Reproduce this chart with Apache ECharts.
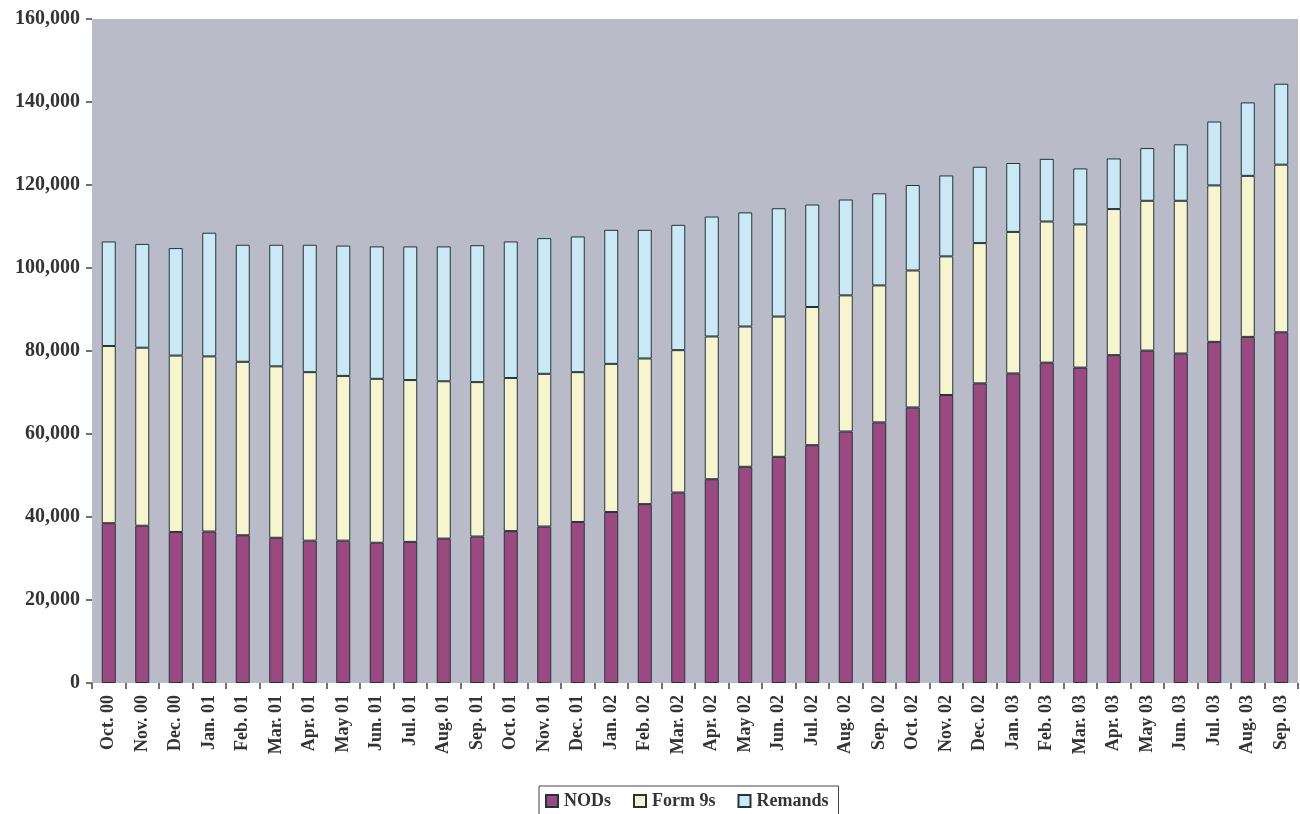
<!DOCTYPE html>
<html>
<head>
<meta charset="utf-8">
<script src="https://cdn.jsdelivr.net/npm/echarts@6/dist/echarts.min.js"></script>
<style>
  html, body { margin: 0; padding: 0; background: #ffffff; }
  #chart { width: 1300px; height: 814px; }
</style>
</head>
<body>
<div id="chart"></div>
<script>
// Monthly caseload, October 2000 – September 2003
const months = [
  'Oct. 00', 'Nov. 00', 'Dec. 00', 'Jan. 01', 'Feb. 01', 'Mar. 01', 'Apr. 01', 'May 01', 'Jun. 01',
  'Jul. 01', 'Aug. 01', 'Sep. 01', 'Oct. 01', 'Nov. 01', 'Dec. 01', 'Jan. 02', 'Feb. 02', 'Mar. 02',
  'Apr. 02', 'May 02', 'Jun. 02', 'Jul. 02', 'Aug. 02', 'Sep. 02', 'Oct. 02', 'Nov. 02', 'Dec. 02',
  'Jan. 03', 'Feb. 03', 'Mar. 03', 'Apr. 03', 'May 03', 'Jun. 03', 'Jul. 03', 'Aug. 03', 'Sep. 03'
];

const nods = [
  38500, 37900, 36400, 36500, 35600, 35000, 34300, 34300, 33800,
  34000, 34800, 35300, 36600, 37700, 38800, 41200, 43100, 45900,
  49100, 52100, 54500, 57300, 60600, 62800, 66400, 69400, 72200,
  74600, 77200, 76000, 79000, 80100, 79400, 82200, 83400, 84500
];

const form9s = [
  42700, 42900, 42500, 42200, 41800, 41300, 40600, 39700, 39500,
  39000, 37900, 37200, 36900, 36800, 36100, 35700, 35100, 34300,
  34400, 33800, 33800, 33300, 32800, 33000, 33000, 33400, 33800,
  34100, 34000, 34500, 35200, 36100, 36800, 37700, 38800, 40400
];

const remands = [
  25200, 25000, 25900, 29800, 28200, 29300, 30700, 31400, 31900,
  32200, 32500, 33000, 32900, 32700, 32700, 32300, 31000, 30200,
  28900, 27500, 26100, 24700, 23100, 22200, 20600, 19500, 18400,
  16600, 15100, 13500, 12200, 12700, 13600, 15400, 17700, 19500
];

const seriesNames = ['NODs', 'Form 9s', 'Remands'];
const seriesColors = ['#9a4a80', '#f6f5cf', '#cbe9f4'];

const serif = '"Liberation Serif", "DejaVu Serif", serif';
const inkColor = '#343434';

const chart = echarts.init(document.getElementById('chart'), null, { renderer: 'canvas' });

function barSeries(name, data, color) {
  return {
    name: name,
    type: 'bar',
    stack: 'total',
    data: data,
    barWidth: 14,
    itemStyle: { color: color, borderColor: '#24343a', borderWidth: 1 },
    emphasis: { disabled: true }
  };
}

chart.setOption({
  animation: false,
  backgroundColor: '#ffffff',
  grid: {
    left: 92, right: 2, top: 19, bottom: 131,
    show: true, backgroundColor: '#b9bbc8', borderWidth: 0
  },
  legend: {
    data: seriesNames,
    left: 539, top: 786,
    orient: 'horizontal',
    icon: 'rect',
    itemWidth: 12, itemHeight: 12,
    itemGap: 22,
    padding: [6, 10, 12, 6],
    borderColor: '#444',
    borderWidth: 1,
    textStyle: { fontFamily: serif, fontWeight: 'bold', fontSize: 18, color: inkColor, padding: [0, 0, 0, 1] }
  },
  xAxis: {
    type: 'category',
    data: months,
    boundaryGap: true,
    axisLine: { show: false },
    axisTick: { show: true, alignWithLabel: false, length: 6, lineStyle: { color: '#444', width: 1.5 } },
    axisLabel: {
      rotate: 90, interval: 0, margin: 12,
      fontFamily: serif, fontWeight: 'bold', fontSize: 18, color: inkColor
    },
    splitLine: { show: false }
  },
  yAxis: {
    type: 'value',
    min: 0, max: 160000, interval: 20000,
    axisLine: { show: false },
    axisTick: { show: true, length: 6, lineStyle: { color: '#444', width: 1.5 } },
    axisLabel: {
      margin: 12,
      fontFamily: serif, fontWeight: 'bold', fontSize: 20, color: inkColor,
      formatter: function (v) { return v.toLocaleString('en-US'); }
    },
    splitLine: { show: false }
  },
  series: [
    barSeries(seriesNames[0], nods, seriesColors[0]),
    barSeries(seriesNames[1], form9s, seriesColors[1]),
    barSeries(seriesNames[2], remands, seriesColors[2])
  ]
});
</script>
</body>
</html>
